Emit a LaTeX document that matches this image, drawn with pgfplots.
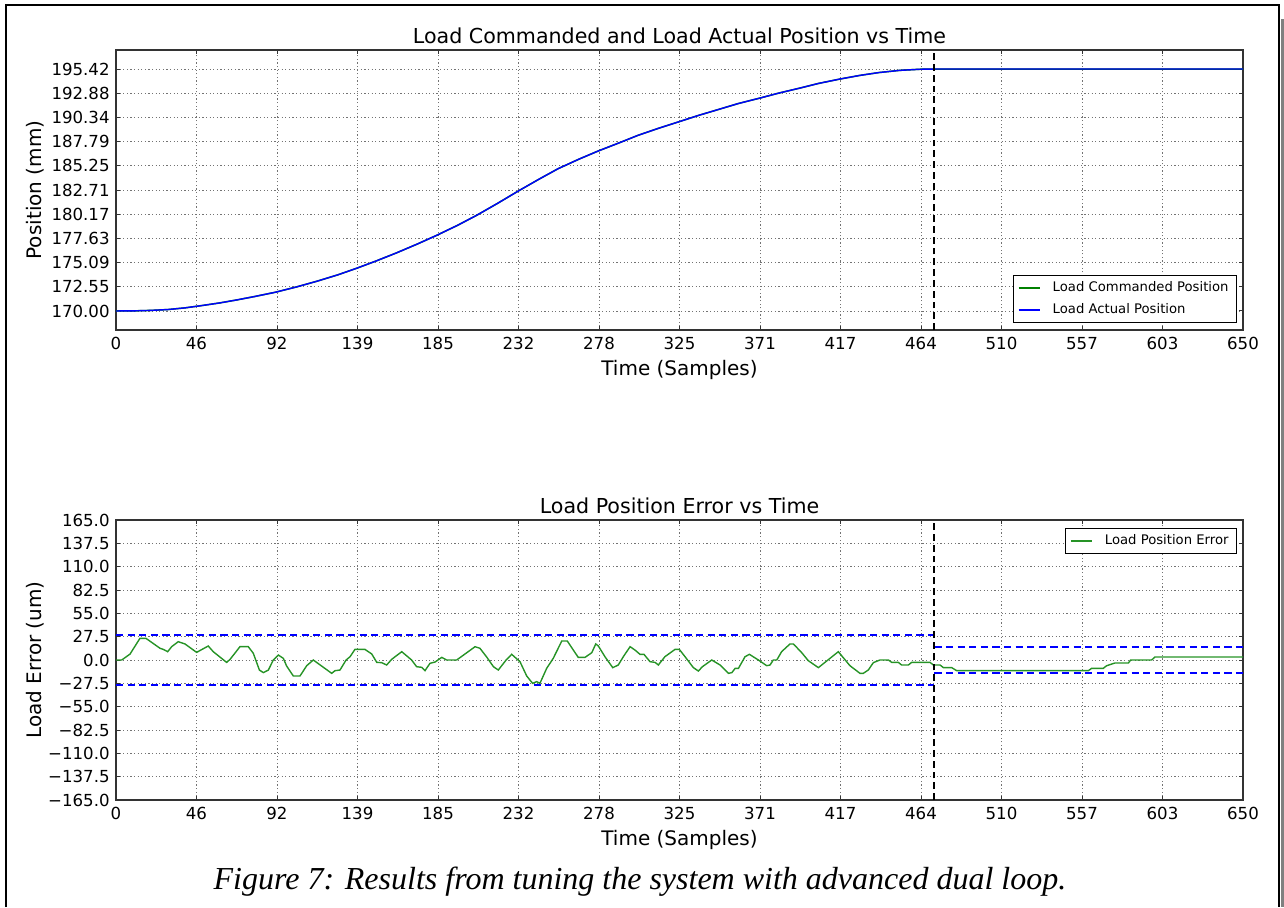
\documentclass[border=0pt]{standalone}
\usepackage{pgfplots}
\pgfplotsset{compat=1.18}
\usepackage{pgfplotstable}
\usepackage{fontspec}
\setmainfont{DejaVu Sans}
\newfontfamily\capfont{Liberation Serif}

\definecolor{mplgreen}{rgb}{0,0.5,0}
\definecolor{mplblue}{rgb}{0,0,1}

% load position (mm) vs sample
\pgfplotstableread{
x y
0 170.00
10 170.01
20 170.06
30 170.15
40 170.33
50 170.58
60 170.85
70 171.17
80 171.52
92 171.97
104 172.52
116 173.13
128 173.80
139 174.50
150 175.25
162 176.12
174 177.05
185 177.95
197 179.00
208 180.05
220 181.30
232 182.60
244 183.85
255 184.95
267 185.95
278 186.80
290 187.65
301 188.45
313 189.20
325 189.90
336 190.55
348 191.20
359 191.80
371 192.35
382 192.88
394 193.40
405 193.90
417 194.35
429 194.75
440 195.05
452 195.28
464 195.40
472 195.42
650 195.42
}\postab

% load position error (um) vs sample
\pgfplotstableread{
x y
0 0
3.3 0
8.1 7
13.8 25.5
17.3 25.5
25.4 13.8
27.3 12.5
29.8 9.8
32.1 15.7
35.9 21.6
39.8 18.9
46.5 9.0
53.2 16.5
56.1 9.8
63.8 -2.8
65.8 0.8
71.5 15.7
76.3 15.7
79.2 7.9
82.7 -11.8
85.0 -14.9
87.9 -11.8
90.7 0
93.6 5.9
96.5 2.0
98.4 -7.1
102.3 -18.9
106.1 -18.9
110.0 -6.7
113.8 0
124.4 -15.7
126.3 -12.6
129.2 -11.8
132.7 0
135.0 3.9
137.8 12.5
143.6 12.5
147.5 7.1
150.4 -2.8
153.2 -3.1
156.1 -5.9
159.0 0.8
164.8 9.8
170.5 0
173.4 -7.9
176.3 -8.6
178.2 -12.6
181.1 -3.9
184.0 -2.4
187.9 3.1
190.7 0
196.5 0
207.1 15.7
209.9 13.8
213.8 3.5
217.7 -7.9
220.5 -11.8
225.0 0
228.2 6.7
233.0 -2.0
236.9 -18.9
240.3 -27.5
242.6 -25.5
244.5 -27.5
248.4 -9.8
252.2 2.0
257.1 22.4
260.3 22.4
266.6 3.1
270.5 3.1
274.4 8.6
276.7 18.9
278.2 16.5
282.0 3.9
286.5 -9.0
289.7 -5.9
292.6 3.9
296.5 15.7
299.3 11.8
302.2 6.7
304.5 6.7
308.0 -2.0
310.9 -2.8
312.8 -5.9
316.6 3.9
322.4 12.5
324.9 12.5
328.2 3.9
333.0 -9.0
335.9 -13.0
338.2 -7.9
343.6 0
348.4 -5.9
353.2 -15.7
355.2 -14.9
357.1 -9.8
359.0 -9.8
362.8 3.9
365.3 6.7
370.5 0
375.3 -6.7
377.2 -5.9
379.1 0
381.1 0
383.9 9.8
388.7 18.9
390.7 18.9
395.5 8.6
399.3 -0.8
405.1 -9.0
416.6 9.8
423.3 -6.7
429.1 -15.7
431.0 -15.7
433.9 -11.8
436.8 -3.1
440.6 0
445.5 0
447.4 -2.8
451.2 -2.8
453.1 -5.9
457.0 -5.9
458.9 -2.8
469.5 -2.8
471.4 -5.9
475.3 -5.9
477.2 -9.0
482.0 -9.0
484.9 -12.6
560.8 -12.6
562.7 -9.8
569.4 -9.8
571.4 -6.7
576.2 -3.5
583.9 -3.5
585.2 0
597.3 0
599.2 3.5
650 3.5
}\errtab

\pgfplotsset{
  mplaxis/.style={
    scale only axis,
    width=563.5pt, height=140pt,
    anchor=south west,
    xmin=0, xmax=650,
    xtick={0,46.4286,92.8571,139.2857,185.7143,232.1429,278.5714,325,371.4286,417.8571,464.2857,510.7143,557.1429,603.5714,650},
    xticklabels={0,46,92,139,185,232,278,325,371,417,464,510,557,603,650},
    grid=major,
    major grid style={black!55, line width=0.4pt, dash pattern=on 0.6pt off 1.2pt},
    axis line style={black!80, line width=0.6pt},
    tick style={black!80, line width=0.5pt},
    tick align=inside,
    major tick length=2.2pt,
    ticklabel style={font=\fontsize{8.3}{9}\selectfont, text=black},
    xticklabel style={anchor=north, inner sep=0pt, yshift=-3.4pt},
    yticklabel style={anchor=east, inner sep=0pt, xshift=-3pt},
    title style={at={(axis description cs:0.5,1)}, anchor=base, yshift=-2.7pt, font=\fontsize{10.3}{12}\selectfont},
    xlabel style={at={(axis description cs:0.5,0)}, anchor=base, yshift=-22.5pt, font=\fontsize{10}{12}\selectfont},
    ylabel style={at={(axis description cs:-0.0657,0.5)}, anchor=base, font=\fontsize{10}{12}\selectfont},
    legend style={font=\fontsize{6.6}{7.5}\selectfont, draw=black, line width=0.5pt, fill=white,
      inner xsep=2pt, inner ysep=1pt, row sep=0.5pt,
      /tikz/every odd column/.append style={column sep=4pt}},
    legend cell align=left,
    legend image code/.code={\draw[#1, line width=1pt] (0pt,0pt) -- (10.5pt,0pt);},
  },
  bound/.style={mplblue, line width=1pt, dash pattern=on 3.6pt off 2.2pt, forget plot},
  marker/.style={black, line width=1pt, dash pattern=on 3.4pt off 2pt, forget plot},
}

\begin{document}
\begin{tikzpicture}
\path[use as bounding box] (0pt,0pt) rectangle (642pt,453.5pt);

% page frame and shadow
\draw[black, line width=1pt] (2.75pt,0pt) -- (2.75pt,450.75pt) -- (639.5pt,450.75pt) -- (639.5pt,0pt);
\fill[black!50] (640.3pt,0pt) rectangle (642pt,444pt);

\begin{axis}[mplaxis,
  at={(58pt,288.5pt)},
  ymin=168.0, ymax=197.42,
  ytick={170,172.542,175.084,177.626,180.168,182.71,185.252,187.794,190.336,192.878,195.42},
  yticklabels={170.00,172.55,175.09,177.63,180.17,182.71,185.25,187.79,190.34,192.88,195.42},
  title={Load Commanded and Load Actual Position vs Time},
  xlabel={Time (Samples)},
  ylabel={Position (mm)},
  legend style={at={(0.9947,0.025)}, anchor=south east},
]
\addplot[mplgreen, line width=0.75pt] table {\postab};
\addlegendentry{Load Commanded Position}
\addplot[mplblue, line width=0.7pt] table {\postab};
\addlegendentry{Load Actual Position}
\addplot[marker] coordinates {(472,168.0) (472,197.42)};
\end{axis}

\begin{axis}[mplaxis,
  at={(58pt,53.5pt)},
  ymin=-165, ymax=165,
  ytick={-165,-137.5,-110,-82.5,-55,-27.5,0,27.5,55,82.5,110,137.5,165},
  yticklabels={−165.0,−137.5,−110.0,−82.5,−55.0,−27.5,0.0,27.5,55.0,82.5,110.0,137.5,165.0},
  title={Load Position Error vs Time},
  xlabel={Time (Samples)},
  ylabel={Load Error (um)},
  legend style={at={(0.9947,0.9725)}, anchor=north east},
]
\addplot[mplgreen!85!white, line width=0.7pt] table {\errtab};
\addlegendentry{Load Position Error}
\addplot[bound] coordinates {(0,30) (472,30)};
\addplot[bound] coordinates {(0,-30) (472,-30)};
\addplot[bound] coordinates {(472,15) (650,15)};
\addplot[bound] coordinates {(472,-15) (650,-15)};
\addplot[marker] coordinates {(472,-165) (472,165)};
\end{axis}

\node[anchor=base, font=\capfont\itshape\fontsize{16}{19}\selectfont] at (320pt,9pt)
  {Figure 7: Results from tuning the system with advanced dual loop.};
\end{tikzpicture}
\end{document}
